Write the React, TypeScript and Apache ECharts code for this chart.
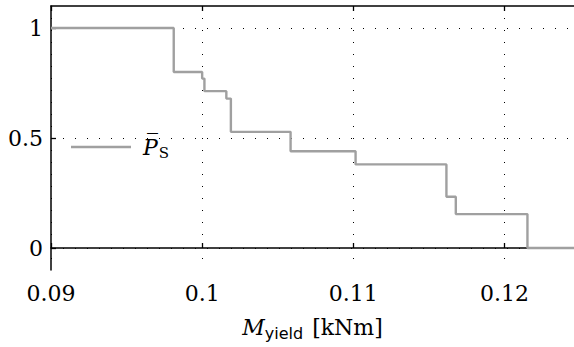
import React, { useEffect, useRef } from "react";
import * as echarts from "echarts";

// Step breakpoints: value holds from x until the next x
const stepX = [0.09, 0.09812, 0.1, 0.10015, 0.1016, 0.1019, 0.10585, 0.11015, 0.11616, 0.11678, 0.12152, 0.1246];
const stepY = [1, 0.8, 0.77, 0.713, 0.679, 0.528, 0.44, 0.38, 0.233, 0.154, 0, 0];
const xTicks = [0.09, 0.1, 0.11, 0.12];
const xTickLabels = ["0.09", "0.1", "0.11", "0.12"];
const yTicks = [0, 0.5, 1];
const yTickLabels = ["0", "0.5", "1"];

const SERIF = "'DejaVu Serif', 'Liberation Serif', serif";
const SANS = "'DejaVu Sans', sans-serif";

export default function App() {
  const ref = useRef<HTMLDivElement>(null);
  useEffect(() => {
    const chart = echarts.init(ref.current!, null, { renderer: "svg" });
    const data = stepX.map((x, i) => [x, stepY[i]]);
    const axisLine = { show: true, lineStyle: { color: "#000", width: 1.5 } };
    const splitLine = { show: true, lineStyle: { color: "#000", width: 1, type: [1, 11] as any } };
    const label = (ticks: number[], names: string[]) => (v: number) => {
      const i = ticks.findIndex((t) => Math.abs(t - v) < 1e-9);
      return i >= 0 ? "{t|" + names[i] + "}" : "";
    };
    const tRich = { t: { fontFamily: SERIF, fontSize: 22, color: "#000" } };
    chart.setOption({
      animation: false,
      textStyle: { fontFamily: SERIF },
      grid: { left: 51, right: 0, top: 6, bottom: 77, containLabel: false },
      legend: {
        left: 66,
        top: 131,
        itemWidth: 60,
        itemHeight: 2.4,
        itemGap: 8,
        icon: "rect",
        itemStyle: { color: "#a0a0a0" },
        data: ["ps"],
        formatter: () => "{p|P\u0305}{s|S}",
        textStyle: {
          fontFamily: SERIF,
          padding: [0, 0, 0, 7],
          rich: {
            p: { fontFamily: SERIF, fontStyle: "italic", fontSize: 22, lineHeight: 27, verticalAlign: "middle", color: "#000" },
            s: { fontFamily: SERIF, fontSize: 15, lineHeight: 18, verticalAlign: "bottom", color: "#000", padding: [0, 0, 0, 1] },
          },
        },
      },
      xAxis: [
        {
          type: "value",
          min: 0.09,
          max: 0.1246,
          axisLine,
          axisTick: { show: true, inside: true, length: 5, customValues: xTicks, lineStyle: { color: "#000", width: 1.3 } },
          axisLabel: {
            customValues: xTicks,
            margin: 12,
            fontFamily: SERIF,
            fontSize: 22,
            color: "#000",
            formatter: label(xTicks, xTickLabels),
            rich: tRich,
          },
          splitLine,
          name: "{m|M}{y|yield}{u|[kNm]}",
          nameLocation: "middle",
          nameGap: 44,
          nameTextStyle: {
            fontFamily: SERIF,
            rich: {
              m: { fontFamily: SERIF, fontStyle: "italic", fontSize: 22, lineHeight: 27, verticalAlign: "middle", color: "#000" },
              y: { fontFamily: SANS, fontSize: 16, lineHeight: 18, verticalAlign: "bottom", color: "#000" },
              u: { fontFamily: SERIF, fontSize: 22, lineHeight: 27, verticalAlign: "middle", color: "#000", padding: [0, 0, 0, 9] },
            },
          },
        },
        {
          type: "value",
          position: "top",
          min: 0.09,
          max: 0.1246,
          axisLine,
          axisTick: { show: true, inside: true, length: 5, customValues: xTicks, lineStyle: { color: "#000", width: 1.3 } },
          axisLabel: { show: false },
          splitLine: { show: false },
        },
      ],
      yAxis: {
        type: "value",
        min: -0.1,
        max: 1.1,
        axisLine,
        axisTick: { show: true, inside: true, length: 5, customValues: yTicks, lineStyle: { color: "#000", width: 1.3 } },
        axisLabel: {
          customValues: yTicks,
          margin: 8,
          fontFamily: SERIF,
          fontSize: 22,
          color: "#000",
          formatter: label(yTicks, yTickLabels),
          rich: tRich,
        },
        splitLine,
      },
      series: [
        {
          name: "ps",
          type: "line",
          step: "end",
          data,
          symbol: "none",
          lineStyle: { color: "#a0a0a0", width: 2.4 },
          itemStyle: { color: "#a0a0a0" },
          z: 5,
        },
      ],
    });
    return () => chart.dispose();
  }, []);
  return (
    <div
      ref={ref}
      style={{ position: "fixed", left: 0, top: 0, width: 574, height: 347, background: "#fff" }}
    />
  );
}
